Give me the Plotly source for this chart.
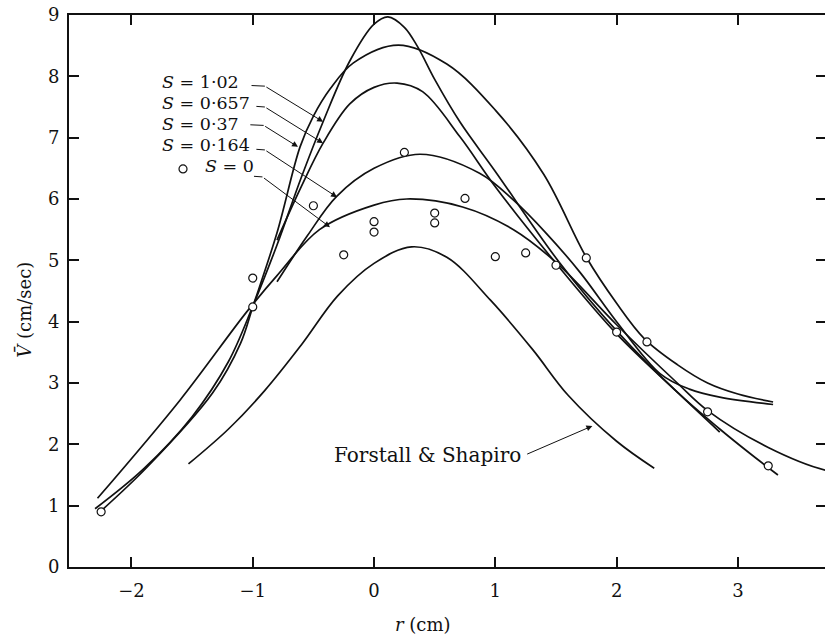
import plotly.graph_objects as go

# Mean axial velocity profiles V(r) for several swirl numbers S
r_s102 = [-2.30, -1.90, -1.50, -1.20, -1.00, -0.80, -0.60, -0.42, -0.20, 0.00, 0.115, 0.25, 0.36, 0.50, 0.71, 1.00, 1.53, 2.00, 2.50, 2.85, 3.10, 3.33]
v_s102 = [0.95, 1.60, 2.45, 3.35, 4.25, 5.25, 6.35, 7.26, 8.25, 8.85, 8.97, 8.80, 8.48, 7.95, 7.25, 6.45, 4.96, 3.85, 2.85, 2.25, 1.85, 1.50]

r_s0657 = [-0.80, -0.60, -0.42, -0.20, 0.00, 0.19, 0.40, 0.71, 1.00, 1.53, 2.00, 2.50, 2.85]
v_s0657 = [5.33, 6.20, 6.91, 7.55, 7.82, 7.89, 7.75, 7.01, 6.20, 4.88, 3.80, 2.85, 2.20]

r_s037 = [-2.27, -1.87, -1.33, -1.10, -1.00, -0.80, -0.61, -0.50, -0.36, -0.17, 0.20, 0.60, 1.00, 1.40, 1.75, 2.00, 2.23, 2.50, 2.75, 3.00, 3.29]
v_s037 = [0.88, 1.63, 2.84, 3.65, 4.24, 5.45, 6.85, 7.35, 7.80, 8.22, 8.51, 8.20, 7.45, 6.40, 5.05, 4.30, 3.72, 3.30, 3.00, 2.82, 2.69]

r_s0164 = [-0.80, -0.55, -0.31, 0.00, 0.38, 0.87, 1.15, 1.42, 1.70, 2.00, 2.36, 2.60, 2.85, 3.29]
v_s0164 = [4.65, 5.40, 6.04, 6.50, 6.73, 6.42, 5.98, 5.44, 4.80, 4.00, 3.15, 2.90, 2.77, 2.65]

r_s0 = [-2.28, -1.60, -1.05, -0.80, -0.45, 0.00, 0.27, 0.73, 1.15, 1.51, 2.00, 2.50, 2.75, 3.25, 3.72, 3.85]
v_s0 = [1.12, 2.72, 4.16, 4.75, 5.50, 5.90, 6.00, 5.87, 5.50, 4.95, 3.95, 3.00, 2.55, 1.95, 1.58, 1.55]

# Forstall & Shapiro reference profile
r_fs = [-1.53, -1.20, -0.90, -0.60, -0.30, 0.00, 0.31, 0.60, 0.96, 1.31, 1.60, 2.00, 2.31]
v_fs = [1.68, 2.25, 2.88, 3.62, 4.42, 4.95, 5.22, 5.05, 4.35, 3.54, 2.80, 2.05, 1.61]

# Measured points, S = 0
r_pts = [-2.25, -1.0, -1.0, -0.5, -0.25, 0.0, 0.0, 0.25, 0.5, 0.5, 0.75, 1.0, 1.25, 1.5, 1.75, 2.0, 2.25, 2.75, 3.25, 3.75]
v_pts = [0.90, 4.71, 4.24, 5.89, 5.09, 5.63, 5.46, 6.76, 5.77, 5.61, 6.01, 5.06, 5.12, 4.92, 5.04, 3.83, 3.67, 2.53, 1.65, 1.61]

x_ticks = [-2, -1, 0, 1, 2, 3]
y_ticks = [0, 1, 2, 3, 4, 5, 6, 7, 8, 9]

FONT = "DejaVu Serif"
INK = "#111111"

fig = go.Figure()

curves = [
    ("S = 1.02", r_s102, v_s102),
    ("S = 0.657", r_s0657, v_s0657),
    ("S = 0.37", r_s037, v_s037),
    ("S = 0.164", r_s0164, v_s0164),
    ("S = 0", r_s0, v_s0),
    ("Forstall & Shapiro", r_fs, v_fs),
]
for name, xs, ys in curves:
    fig.add_trace(go.Scatter(
        x=xs, y=ys, mode="lines", name=name,
        line=dict(color=INK, width=1.7, shape="spline", smoothing=1.0),
        hoverinfo="skip",
    ))

fig.add_trace(go.Scatter(
    x=r_pts, y=v_pts, mode="markers", name="S = 0 data",
    marker=dict(symbol="circle", size=8, color="white",
                line=dict(color=INK, width=1.2)),
))

# key marker beside the "S = 0" label
fig.add_trace(go.Scatter(
    x=[-1.575], y=[6.49], mode="markers", showlegend=False,
    marker=dict(symbol="circle", size=8, color="white",
                line=dict(color=INK, width=1.2)),
    hoverinfo="skip", cliponaxis=False,
))

# carrier for the right-hand tick axis
fig.add_trace(go.Scatter(x=[None], y=[None], yaxis="y2", showlegend=False, hoverinfo="skip"))

LABEL_SIZE = 17.5
# text, label y, stub start, stub end / arrow tail, arrow tip
labels = [
    ("<i>S</i> = 1·02", 7.91, (-1.01, 7.85), (-0.90, 7.84), (-0.42, 7.26)),
    ("<i>S</i> = 0·657", 7.57, (-0.97, 7.51), (-0.90, 7.50), (-0.42, 6.91)),
    ("<i>S</i> = 0·37", 7.22, (-1.02, 7.21), (-0.91, 7.20), (-0.627, 6.85)),
    ("<i>S</i> = 0·164", 6.88, (-0.97, 6.81), (-0.90, 6.80), (-0.305, 6.03)),
    ("<i>S</i> = 0", 6.54, (-0.99, 6.37), (-0.92, 6.36), (-0.363, 5.54)),
]
for i, (txt, ty, s0, s1, tip) in enumerate(labels):
    lx = -1.41 if i == 4 else -1.764
    fig.add_annotation(x=lx, y=ty, text=txt, showarrow=False,
                       xanchor="left", yanchor="middle",
                       font=dict(family=FONT, size=LABEL_SIZE, color=INK))
    fig.add_shape(type="line", x0=s0[0], y0=s0[1], x1=s1[0], y1=s1[1],
                  line=dict(color=INK, width=1))
    fig.add_annotation(x=tip[0], y=tip[1], ax=s1[0], ay=s1[1],
                       axref="x", ayref="y", text="", showarrow=True,
                       arrowhead=2, arrowsize=1.2, arrowwidth=1, arrowcolor=INK)

fig.add_annotation(x=1.228, y=1.83, text="Forstall & Shapiro", showarrow=False,
                   xanchor="right", yanchor="middle",
                   font=dict(family=FONT, size=20, color=INK))
fig.add_annotation(x=1.80, y=2.30, ax=1.25, ay=1.83, axref="x", ayref="y",
                   text="", showarrow=True, arrowhead=2, arrowsize=1.2,
                   arrowwidth=1, arrowcolor=INK)

# axis titles
fig.add_annotation(x=0.40, yref="paper", y=-0.105, text="<i>r</i> (cm)", showarrow=False,
                   xanchor="center", yanchor="middle",
                   font=dict(family=FONT, size=18, color=INK))
fig.add_annotation(xref="paper", x=-0.060, y=4.19, text="<i>V\u0304</i> (cm/sec)",
                   showarrow=False, textangle=-90, xanchor="center", yanchor="middle",
                   font=dict(family=FONT, size=18, color=INK))

axis_common = dict(
    showgrid=False, zeroline=False, ticks="inside", ticklen=10, tickwidth=2,
    tickcolor=INK, linecolor=INK, linewidth=2,
    tickfont=dict(family=FONT, size=18, color=INK),
)

fig.update_layout(
    width=825, height=639,
    margin=dict(l=69, r=0, t=15, b=72),
    paper_bgcolor="white", plot_bgcolor="white",
    showlegend=False,
    xaxis=dict(range=[-2.515, 3.718], tickvals=x_ticks, showline=True,
               mirror="ticks", ticklabelstandoff=6, **axis_common),
    yaxis=dict(range=[0, 9], tickvals=y_ticks, showline=True,
               ticklabelstandoff=4, **axis_common),
    yaxis2=dict(range=[0, 9], tickvals=y_ticks, overlaying="y", side="right",
                showline=False, showticklabels=False, showgrid=False, zeroline=False,
                ticks="inside", ticklen=9, tickwidth=2, tickcolor=INK),
)

fig.write_html("out.html")
